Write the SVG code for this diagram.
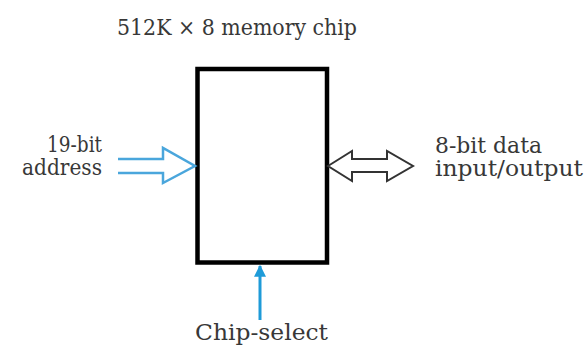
<svg xmlns="http://www.w3.org/2000/svg" width="584" height="352" viewBox="0 0 584 352">
<style>
text{fill:#383838;font-size:22px;font-family:'DejaVu Serif','Liberation Serif',serif}
.blue{fill:none;stroke:#4aa6dc;stroke-width:2.5;stroke-linejoin:miter}
.bi{fill:#fff;stroke:#333;stroke-width:2;stroke-linejoin:miter}
</style>
<defs>
<marker id="ah" viewBox="0 0 10 10" refX="9" refY="5" markerWidth="4" markerHeight="4" orient="auto">
<path d="M0,0 L10,5 L0,10 z" fill="#1e9bd8"/>
</marker>
</defs>
<rect width="584" height="352" fill="#fff"/>
<g id="title"><text x="117" y="35" textLength="240" lengthAdjust="spacingAndGlyphs">512K × 8 memory chip</text></g>
<g id="address-label">
<text x="102" y="152" text-anchor="end" textLength="55" lengthAdjust="spacingAndGlyphs">19-bit</text>
<text x="102" y="175" text-anchor="end" textLength="80" lengthAdjust="spacingAndGlyphs">address</text>
</g>
<g id="data-label">
<text x="435" y="153" textLength="107" lengthAdjust="spacingAndGlyphs">8-bit data</text>
<text x="435" y="176" textLength="148" lengthAdjust="spacingAndGlyphs">input/output</text>
</g>
<g id="cs-label"><text x="195" y="340" textLength="133" lengthAdjust="spacingAndGlyphs">Chip-select</text></g>
<g id="chip"><rect x="197.5" y="69" width="129.5" height="193.5" fill="#fff" stroke="#000" stroke-width="4.5"/></g>
<g id="connectors">
<polyline class="blue" points="118,159 163,159 163,148 195,166 163,183 163,173 118,173"/>
<polygon class="bi" points="328,166 352,151 352,159 387,159 387,151 413,166 387,181 387,172 352,172 352,181"/>
<line x1="260" y1="320" x2="260" y2="266" stroke="#1e9bd8" stroke-width="3" marker-end="url(#ah)"/>
</g>
</svg>
